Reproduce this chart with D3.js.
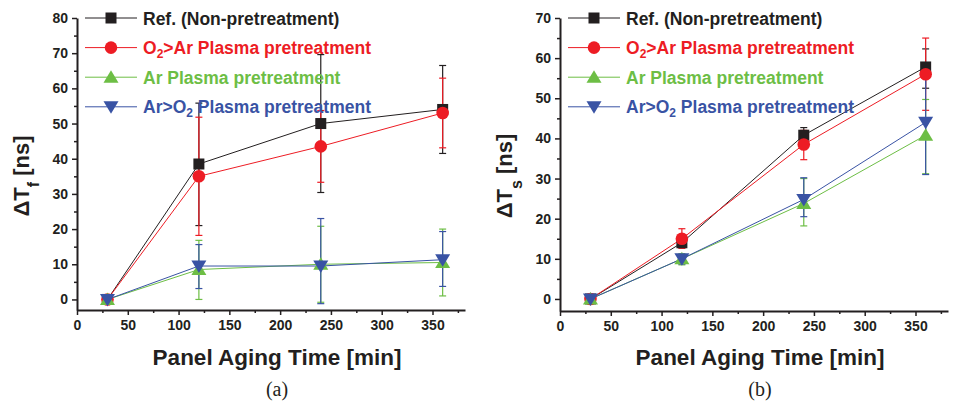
<!DOCTYPE html>
<meta charset="utf-8">
<title>Panel aging</title>
<style>
body { margin: 0; background: #fff; }
svg { display: block; }
.tick text { font: bold 14px "Liberation Sans", Arial, sans-serif; fill: #231f20; }
</style>
<svg></svg>
<script src="https://d3js.org/d3.v7.min.js"></script>
<script>
// aging times [min]
var times = [30, 120, 240, 360];

var seriesNames = ["Ref. (Non-pretreatment)", "O2>Ar Plasma pretreatment", "Ar Plasma pretreatment", "Ar>O2 Plasma pretreatment"];

// panel (a) dTf [ns]
var refF = [0, 38.5, 50, 54];
var refFLo = [0, 21, 30.4, 41.5];
var refFHi = [0, 55.8, 69.6, 66.5];
var o2arF = [0, 35, 43.5, 53];
var o2arFLo = [0, 18.2, 33.3, 43.1];
var o2arFHi = [0, 51.8, 53.7, 62.9];
var arF = [0, 8.5, 10, 10.5];
var arFLo = [0, 0, -0.8, 1];
var arFHi = [0, 16.8, 20.8, 20];
var aro2F = [0, 9.5, 9.5, 11.3];
var aro2FLo = [0, 3.1, -1.2, 3.7];
var aro2FHi = [0, 15.6, 23, 19.3];

// panel (b) dTs [ns]
var refS = [0, 14, 40.8, 57.8];
var refSLo = [0, 12.8, 38.6, 52.5];
var refSHi = [0, 15.2, 42.7, 62.3];
var o2arS = [0, 15, 38.5, 56];
var o2arSLo = [0, 12.6, 34.7, 47];
var o2arSHi = [0, 17.5, 42, 65];
var arS = [0, 10, 23.8, 40.8];
var arSLo = [0, 8.5, 18.2, 31.2];
var arSHi = [0, 11.3, 30, 49.7];
var aro2S = [0, 10, 24.8, 44];
var aro2SLo = [0, 8.7, 20.5, 31];
var aro2SHi = [0, 11, 30.2, 57.8];

var xTicks = [0, 50, 100, 150, 200, 250, 300, 350];
var yTicksA = [0, 10, 20, 30, 40, 50, 60, 70, 80];
var yTicksB = [0, 10, 20, 30, 40, 50, 60, 70];

var colors = ["#231f20", "#ed1c24", "#6dbe45", "#3953a4"];
var shapes = ["square", "circle", "up", "down"];

var width = 957, height = 402;
var svg = d3.select("svg").attr("width", width).attr("height", height);
var font = '"Liberation Sans", Arial, sans-serif';

function marker(g, shape, color) {
  if (shape == "square") {
    g.append("rect").attr("x", -5.5).attr("y", -5.5).attr("width", 11).attr("height", 11).attr("fill", color);
  } else if (shape == "circle") {
    g.append("circle").attr("r", 6.3).attr("fill", color);
  } else if (shape == "up") {
    g.append("path").attr("d", "M0,-7L7.5,5.5L-7.5,5.5Z").attr("fill", color);
  } else {
    g.append("path").attr("d", "M0,7L7.5,-5.5L-7.5,-5.5Z").attr("fill", color);
  }
}

function panel(opt) {
  var x = d3.scaleLinear().domain([0, 382]).range([opt.left, opt.left + 388]);
  var y = d3.scaleLinear().domain(opt.yDomain).range([opt.bottom, 18]);
  var g = svg.append("g");

  // minor ticks
  g.append("g")
    .attr("transform", "translate(0," + opt.bottom + ")")
    .call(d3.axisBottom(x).tickValues(d3.range(25, 382, 50)).tickSize(3).tickFormat(""))
    .call(s => s.select(".domain").remove());
  g.append("g")
    .attr("transform", "translate(" + opt.left + ",0)")
    .call(d3.axisLeft(y).tickValues(d3.range(5, opt.yDomain[1], 10)).tickSize(3).tickFormat(""))
    .call(s => s.select(".domain").remove());

  var xa = g.append("g")
    .attr("transform", "translate(0," + opt.bottom + ")")
    .call(d3.axisBottom(x).tickValues(xTicks).tickSize(5).tickSizeOuter(0).tickPadding(5));
  var ya = g.append("g")
    .attr("transform", "translate(" + opt.left + ",0)")
    .call(d3.axisLeft(y).tickValues(opt.yTicks).tickSize(5).tickSizeOuter(0).tickPadding(4));
  g.selectAll(".domain").attr("stroke", "#231f20").attr("stroke-width", 2);
  g.selectAll(".tick line").attr("stroke", "#231f20").attr("stroke-width", 1.5);

  // lines, error bars, markers
  var line = d3.line().x((d, i) => x(times[i])).y(d => y(d));
  opt.series.forEach(function(s, k) {
    g.append("path")
      .attr("d", line(s.v))
      .attr("fill", "none")
      .attr("stroke", colors[k])
      .attr("stroke-width", 1);
  });
  opt.series.forEach(function(s, k) {
    var eb = g.append("g").attr("stroke", colors[k]).attr("stroke-width", 1.2);
    times.forEach(function(t, i) {
      if (s.hi[i] == s.lo[i]) return;
      eb.append("line").attr("x1", x(t)).attr("x2", x(t)).attr("y1", y(s.lo[i])).attr("y2", y(s.hi[i]));
      eb.append("line").attr("x1", x(t) - 3.5).attr("x2", x(t) + 3.5).attr("y1", y(s.lo[i])).attr("y2", y(s.lo[i]));
      eb.append("line").attr("x1", x(t) - 3.5).attr("x2", x(t) + 3.5).attr("y1", y(s.hi[i])).attr("y2", y(s.hi[i]));
    });
  });
  opt.series.forEach(function(s, k) {
    s.v.forEach(function(d, i) {
      marker(g.append("g").attr("transform", "translate(" + x(times[i]) + "," + y(d) + ")"), shapes[k], colors[k]);
    });
  });

  // legend
  var lg = g.append("g");
  seriesNames.forEach(function(name, k) {
    var ly = 18 + k * 29.6;
    var row = lg.append("g").attr("transform", "translate(" + (opt.left + 8) + "," + ly + ")");
    row.append("line").attr("x1", 0).attr("x2", 52).attr("stroke", colors[k]).attr("stroke-width", 1);
    marker(row.append("g").attr("transform", "translate(26,0)"), shapes[k], colors[k]);
    var txt = row.append("text")
      .attr("x", 58)
      .attr("y", 6.5)
      .attr("font-family", font)
      .attr("font-weight", "bold")
      .attr("font-size", 17.5)
      .attr("fill", colors[k]);
    var parts = name.split("O2");
    parts.forEach(function(p, j) {
      if (j > 0) {
        txt.append("tspan").text("O");
        txt.append("tspan").attr("font-size", 12).attr("dy", 4).text("2");
        txt.append("tspan").attr("dy", -4).text(p);
      } else {
        txt.append("tspan").text(p);
      }
    });
  });

  // axis titles
  g.append("text")
    .attr("x", opt.left + 200)
    .attr("y", 365)
    .attr("text-anchor", "middle")
    .attr("font-family", font)
    .attr("font-weight", "bold")
    .attr("font-size", 22.5)
    .attr("fill", "#231f20")
    .text("Panel Aging Time [min]");

  var yt = g.append("text")
    .attr("transform", "translate(" + (opt.left - 48) + ",176) rotate(-90)")
    .attr("text-anchor", "middle")
    .attr("font-family", font)
    .attr("font-weight", "bold")
    .attr("font-size", 22)
    .attr("fill", "#231f20");
  yt.append("tspan").text("\u0394T");
  yt.append("tspan").attr("font-size", 16).attr("dy", 10).text(opt.sub);
  yt.append("tspan").attr("dy", -10).text(" [ns]");

  g.append("text")
    .attr("x", opt.left + 200)
    .attr("y", 396)
    .attr("text-anchor", "middle")
    .attr("font-family", '"Liberation Serif", "Times New Roman", serif')
    .attr("font-size", 20)
    .attr("fill", "#231f20")
    .text(opt.tag);
}

panel({
  left: 77, bottom: 310, yDomain: [-3, 80], yTicks: yTicksA, sub: "f", tag: "(a)",
  series: [
    {v: refF, lo: refFLo, hi: refFHi},
    {v: o2arF, lo: o2arFLo, hi: o2arFHi},
    {v: arF, lo: arFLo, hi: arFHi},
    {v: aro2F, lo: aro2FLo, hi: aro2FHi}
  ]
});

panel({
  left: 560, bottom: 311, yDomain: [-3, 70], yTicks: yTicksB, sub: "s", tag: "(b)",
  series: [
    {v: refS, lo: refSLo, hi: refSHi},
    {v: o2arS, lo: o2arSLo, hi: o2arSHi},
    {v: arS, lo: arSLo, hi: arSHi},
    {v: aro2S, lo: aro2SLo, hi: aro2SHi}
  ]
});
</script>
